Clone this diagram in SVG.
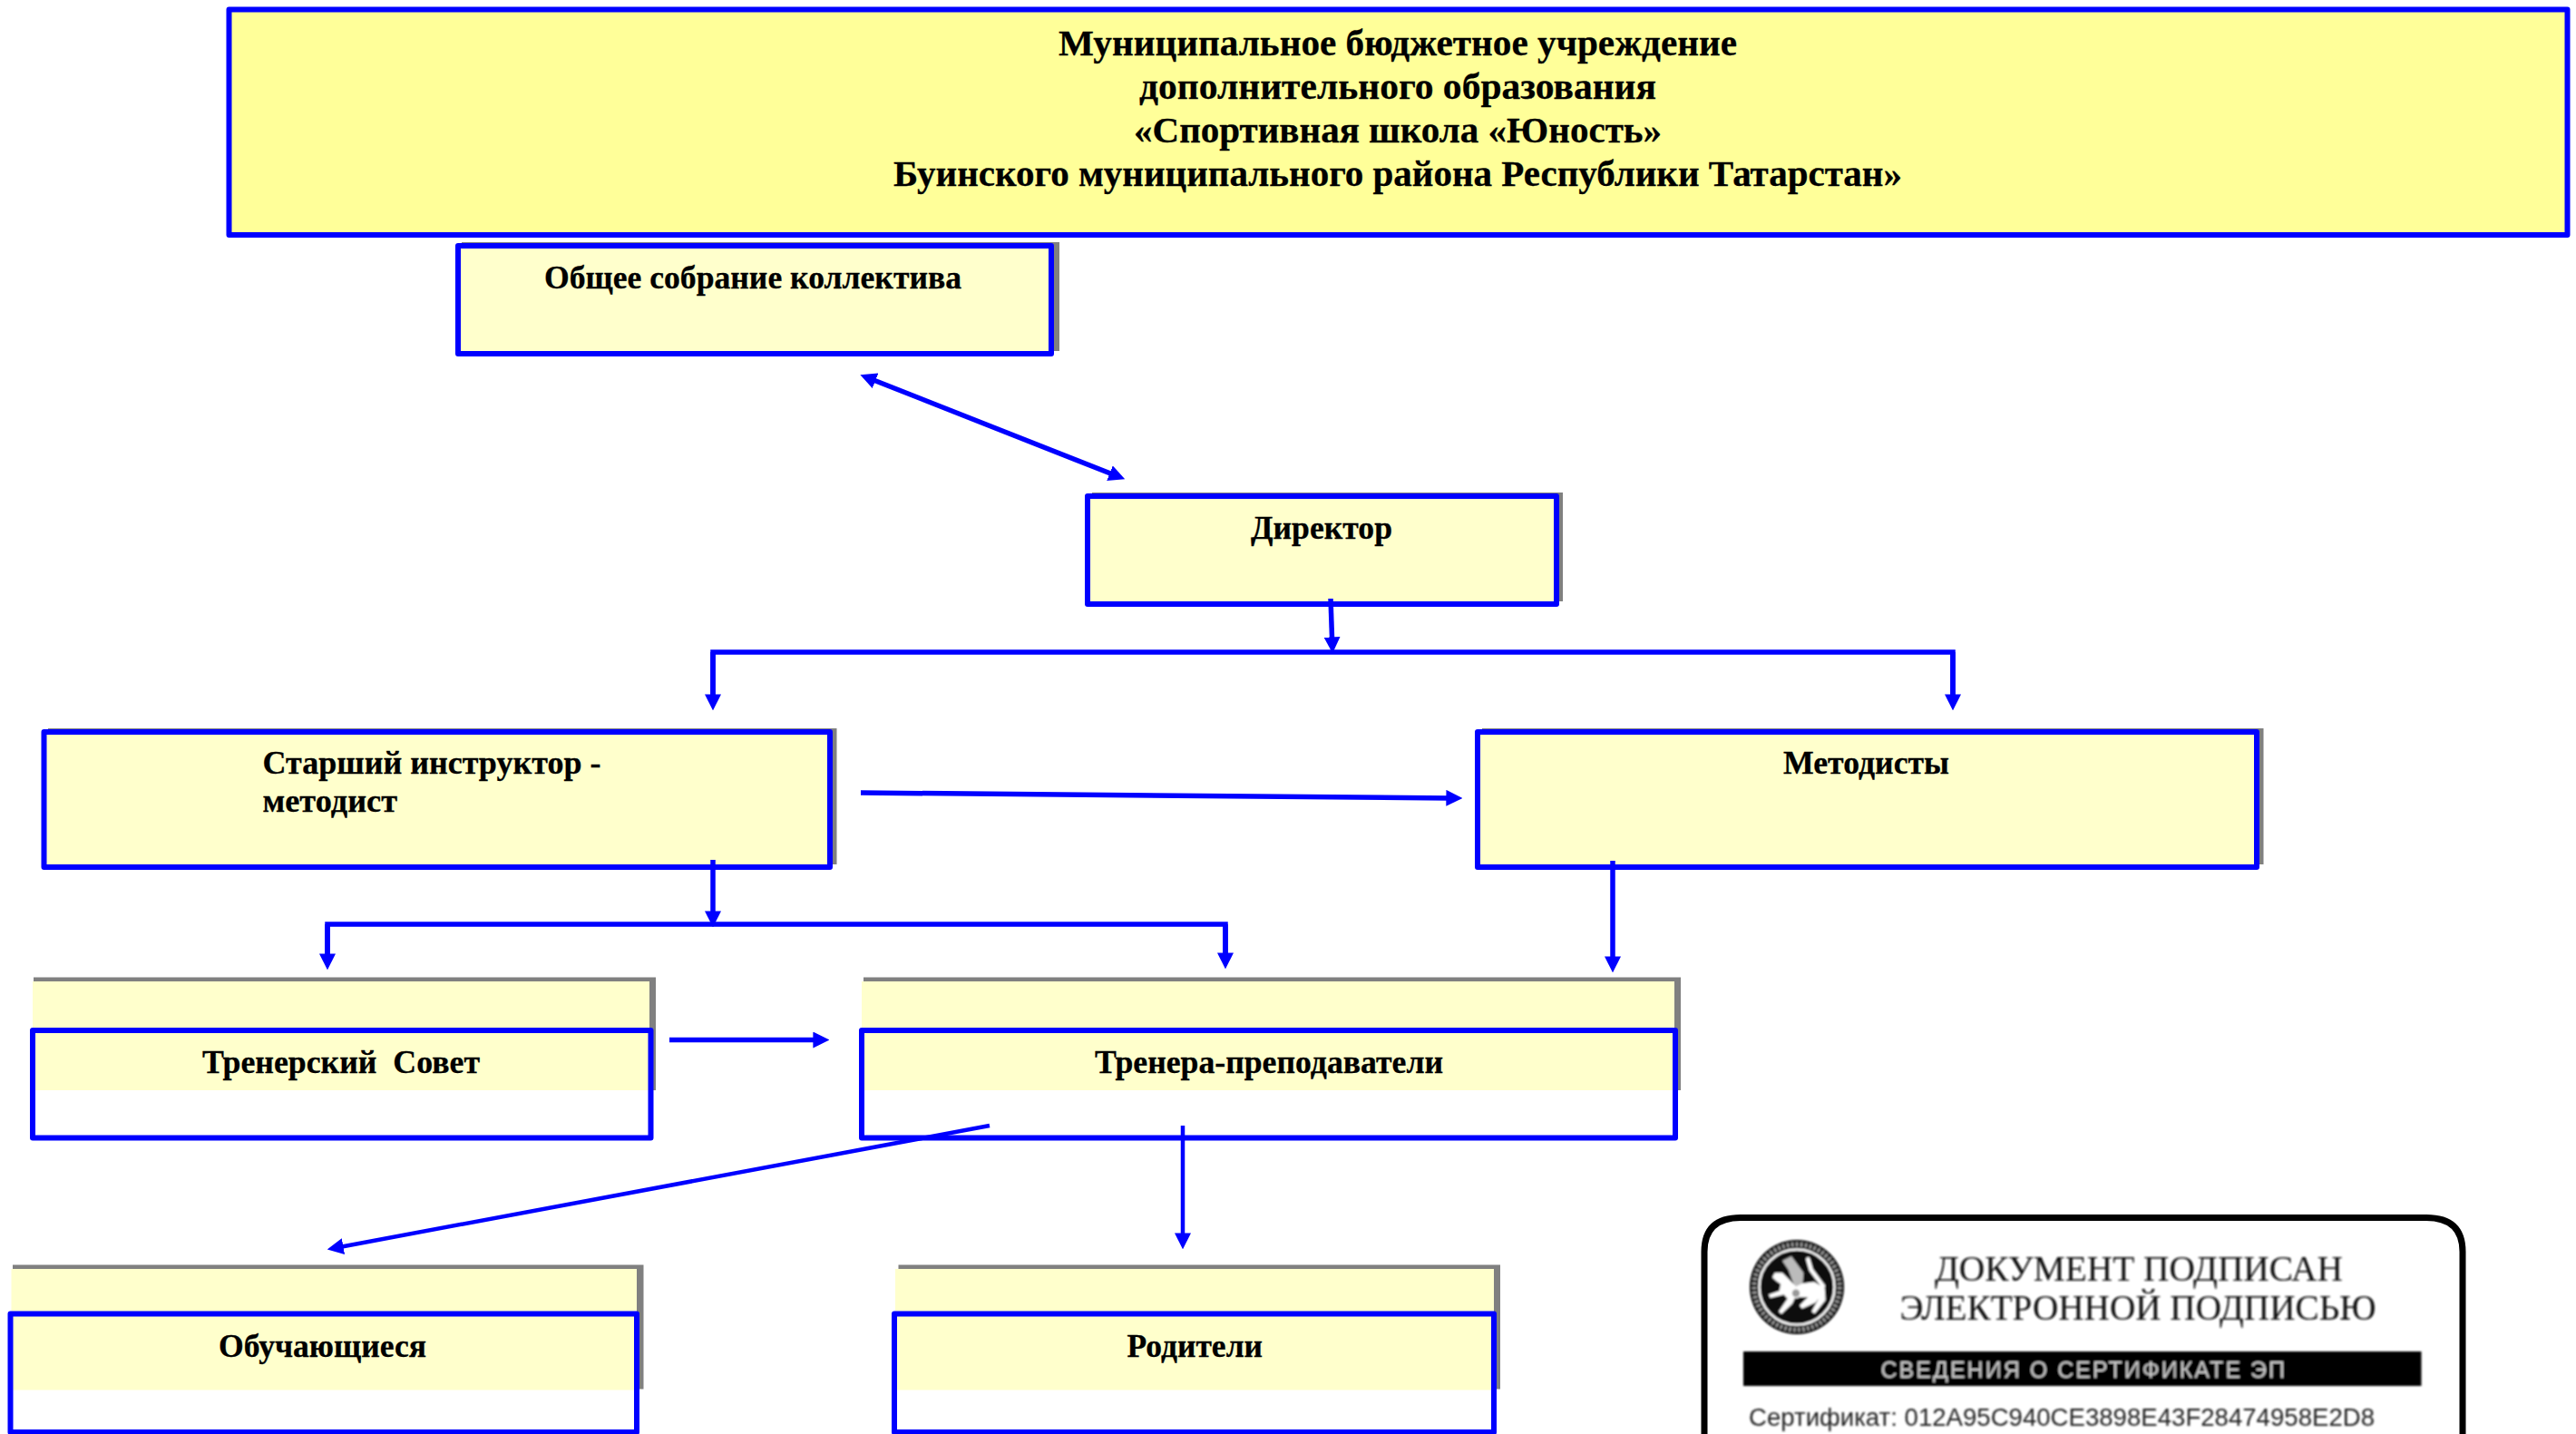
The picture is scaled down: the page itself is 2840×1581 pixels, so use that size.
<svg xmlns="http://www.w3.org/2000/svg" width="2840" height="1581" viewBox="0 0 2840 1581">
<style>
.shadow{fill:#808080}
.pale{fill:#FFFFCC}
.frame{fill:none;stroke:#0000FF;stroke-width:6;stroke-linejoin:round}
.titlebox{fill:#FFFF99}
.label{font-family:"Liberation Serif","Times New Roman",serif;font-weight:700;font-size:35px;fill:#000;stroke:#000;stroke-width:.3}
.title{font-size:40px;text-anchor:middle}
.conn{fill:none;stroke:#0000FF;stroke-width:5.5}
.conn4{stroke-width:4.500}
.stamp{font-family:"Liberation Serif",serif;font-size:40px;fill:#111}
.cert{font-family:"Liberation Sans",Arial,sans-serif}
</style>
<defs>
<marker id="ah" markerUnits="userSpaceOnUse" markerWidth="18" markerHeight="18" refX="5" refY="8" orient="auto-start-reverse" viewBox="0 0 16 16"><path d="M0 0L16 8L0 16Z" fill="#0000FF"/></marker>
<filter id="soft" x="-5%" y="-5%" width="110%" height="110%"><feGaussianBlur stdDeviation="0.8"/></filter>
</defs>
<rect width="2840" height="1581" fill="#FFFFFF"/>

<g id="node-title">
<rect x="252.500" y="10.500" width="2578" height="248.500" class="frame titlebox"/>
<text class="label title" x="1541" y="61" textLength="748" lengthAdjust="spacingAndGlyphs">Муниципальное бюджетное учреждение</text>
<text class="label title" x="1541" y="109" textLength="570" lengthAdjust="spacingAndGlyphs">дополнительного образования</text>
<text class="label title" x="1541" y="157" textLength="582" lengthAdjust="spacingAndGlyphs">«Спортивная школа «Юность»</text>
<text class="label title" x="1541" y="205" textLength="1112" lengthAdjust="spacingAndGlyphs">Буинского муниципального района Республики Татарстан»</text>
</g>

<g id="node-assembly">
<rect class="shadow" x="509" y="267" width="659" height="120"/>
<rect class="pale" x="505" y="271" width="654" height="119"/>
<rect class="frame" x="505" y="271" width="654" height="119"/>
<text class="label" x="600" y="317.500" textLength="460" lengthAdjust="spacingAndGlyphs">Общее собрание коллектива</text>
</g>

<g id="node-director">
<rect class="shadow" x="1204" y="543" width="519" height="120"/>
<rect class="pale" x="1199" y="547" width="517" height="119"/>
<rect class="frame" x="1199" y="547" width="517" height="119"/>
<text class="label" x="1379" y="594" textLength="156" lengthAdjust="spacingAndGlyphs">Директор</text>
</g>

<g id="node-senior">
<rect class="shadow" x="53" y="803" width="869.500" height="150"/>
<rect class="pale" x="48.500" y="807" width="866.500" height="149"/>
<rect class="frame" x="48.500" y="807" width="866.500" height="149"/>
<text class="label" x="289.500" y="852.500" textLength="373" lengthAdjust="spacingAndGlyphs">Старший инструктор -</text>
<text class="label" x="289.500" y="895" textLength="148.500" lengthAdjust="spacingAndGlyphs">методист</text>
</g>

<g id="node-methodists">
<rect class="shadow" x="1634" y="803" width="861.500" height="150"/>
<rect class="pale" x="1629" y="807" width="859" height="149"/>
<rect class="frame" x="1629" y="807" width="859" height="149"/>
<text class="label" x="1966" y="852.500" textLength="183" lengthAdjust="spacingAndGlyphs">Методисты</text>
</g>

<g id="node-council">
<rect class="shadow" x="37" y="1077.500" width="686" height="124.500"/>
<rect class="pale" x="36" y="1082" width="680" height="120"/>
<rect class="frame" x="36" y="1136" width="681.500" height="118.500"/>
<text class="label" x="223" y="1183" textLength="306" lengthAdjust="spacingAndGlyphs" xml:space="preserve">Тренерский  Совет</text>
</g>

<g id="node-trainers">
<rect class="shadow" x="952" y="1077.500" width="901" height="124.500"/>
<rect class="pale" x="950" y="1082" width="896" height="120"/>
<rect class="frame" x="950" y="1136" width="897" height="118.500"/>
<text class="label" x="1207" y="1183" textLength="384" lengthAdjust="spacingAndGlyphs">Тренера-преподаватели</text>
</g>

<g id="node-students">
<rect class="shadow" x="14" y="1394.500" width="695.500" height="137"/>
<rect class="pale" x="12.500" y="1399" width="689.500" height="133.500"/>
<rect class="frame" x="11.500" y="1448.500" width="690.500" height="130.500"/>
<text class="label" x="241" y="1496" textLength="229" lengthAdjust="spacingAndGlyphs">Обучающиеся</text>
</g>

<g id="node-parents">
<rect class="shadow" x="990.500" y="1394.500" width="663.500" height="137"/>
<rect class="pale" x="987" y="1399" width="660" height="133.500"/>
<rect class="frame" x="986" y="1448.500" width="661" height="130.500"/>
<text class="label" x="1242.500" y="1496" textLength="149.500" lengthAdjust="spacingAndGlyphs">Родители</text>
</g>

<g id="connectors">
<path class="conn" d="M1467 660L1468.700 708" marker-end="url(#ah)"/>
<path class="conn" d="M786 771V719H2153V771"/>
<path class="conn" d="M786 719V771" marker-end="url(#ah)"/>
<path class="conn" d="M2153 719V771" marker-end="url(#ah)"/>
<path class="conn" d="M959.900 417.700L1228.700 523.800" marker-start="url(#ah)" marker-end="url(#ah)"/>
<path class="conn" d="M949 874L1600 879.900" marker-end="url(#ah)"/>
<path class="conn" d="M786 948V1010" marker-end="url(#ah)"/>
<path class="conn" d="M361 1057V1019H1351V1056"/>
<path class="conn" d="M361 1019V1057" marker-end="url(#ah)"/>
<path class="conn" d="M1351 1019V1056" marker-end="url(#ah)"/>
<path class="conn" d="M1778 949V1060" marker-end="url(#ah)"/>
<path class="conn" d="M738 1146.500H902" marker-end="url(#ah)"/>
<path class="conn conn4" d="M1091 1241L372.900 1375.200" marker-end="url(#ah)"/>
<path class="conn conn4" d="M1304 1241V1365" marker-end="url(#ah)"/>
</g>

<g id="signature-stamp">
<path d="M1879 1600V1380Q1879 1342.500 1919 1342.500H2675Q2715 1342.500 2715 1380V1600" fill="#FFFFFF" stroke="#000" stroke-width="7"/>
<g id="emblem" transform="translate(1981 1419)" filter="url(#soft)">
<circle r="52" fill="#111"/>
<circle r="47" fill="none" stroke="#999" stroke-width="5" stroke-dasharray="2.500 2.500"/>
<circle r="41.500" fill="none" stroke="#FFF" stroke-width="2.500"/>
<path d="M-16-29L-6-34L7.300-15.700L6.300-.7L-2.700-.7L-9.300-19Z" fill="#BBB"/>
<path d="M-24.300-15.700L-27-10.700L-22.700-6.700L-17.700-3.300L-19.300 4.300L-31 8.300L-29.300 12L-14.300 8.300L-10.300 12.700L-20 27L-17 29.700L-5 18.300L-1.700 11L12.300 11L3 20.300L5.700 23.700L20.700 17L24 12.700L16.300 27L19.700 29.300L31.700 14.300L30.700 1L19-5.700L6.300-4L-1-.7L-16-15.700Z" fill="#FFF"/>
<path d="M29-1L15.700-19L12.300-30.700" fill="none" stroke="#FFF" stroke-width="4.500" stroke-linecap="round"/>
<circle cx="-1" cy="6.700" r="5" fill="#999" stroke="#FFF" stroke-width="1.500"/>
</g>
<g filter="url(#soft)">
<text class="stamp" x="2133" y="1412" textLength="450" lengthAdjust="spacingAndGlyphs">ДОКУМЕНТ ПОДПИСАН</text>
<text class="stamp" x="2094.500" y="1455" textLength="525" lengthAdjust="spacingAndGlyphs">ЭЛЕКТРОННОЙ ПОДПИСЬЮ</text>
<rect x="1922" y="1490" width="747.500" height="38" fill="#000"/>
<text class="cert" x="2073.500" y="1519" font-size="25" fill="#CCC" textLength="445.500" lengthAdjust="spacing">СВЕДЕНИЯ О СЕРТИФИКАТЕ ЭП</text>
<text class="cert" x="1928" y="1572" font-size="27" fill="#222" textLength="690" lengthAdjust="spacingAndGlyphs">Сертификат: 012A95C940CE3898E43F28474958E2D8</text>
</g>
</g>
</svg>
